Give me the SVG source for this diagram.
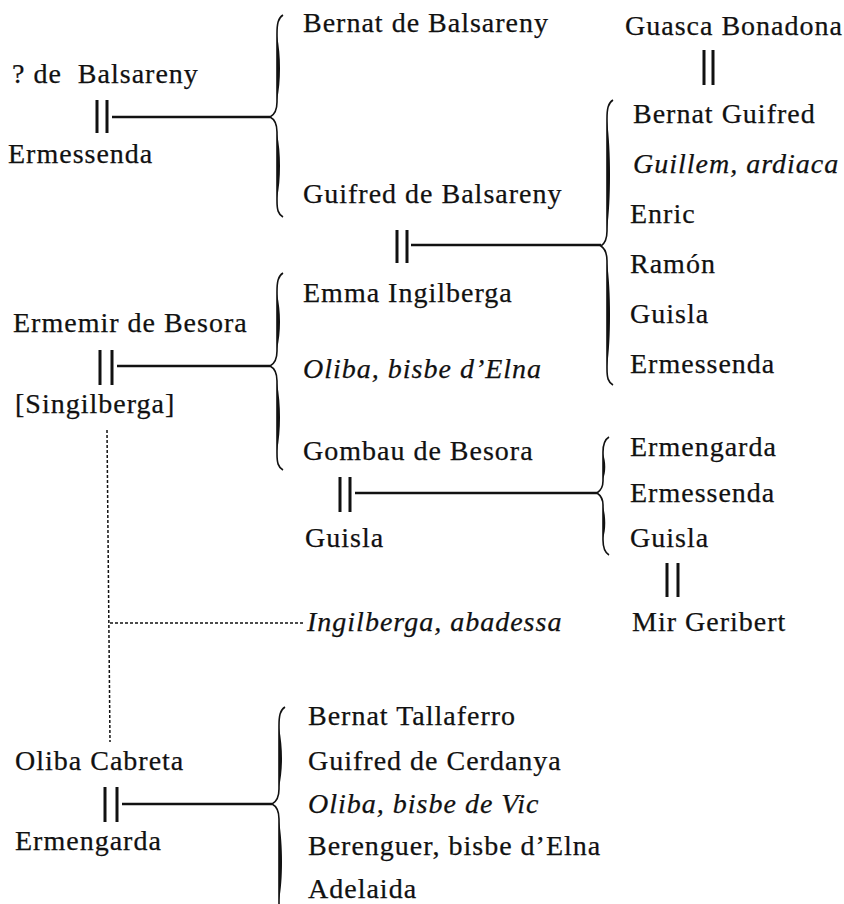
<svg xmlns="http://www.w3.org/2000/svg" width="844" height="904" viewBox="0 0 844 904">
<style>
text{font-family:"Liberation Serif","Times New Roman",serif;font-size:28px;letter-spacing:1px;fill:#111;stroke:#111;stroke-width:0.25;white-space:pre}
.it{font-style:italic}
.bar{stroke:#111;stroke-width:3;fill:none}
.ln{stroke:#111;stroke-width:2.5;fill:none}
.br{stroke:#111;stroke-width:1.6;fill:none}
.sp{fill:#111;stroke:none}
.dot{stroke:#111;stroke-width:1.5;stroke-dasharray:3 2;fill:none}
</style>
<rect width="844" height="904" fill="#fff"/>
<g id="connectors">
  <path class="bar" d="M97,100V133M107,100V133"/>
  <path class="ln" d="M112,117H270"/>
  <path class="bar" d="M100,350V385M112,350V385"/>
  <path class="ln" d="M117,366H270"/>
  <path class="bar" d="M397,230V263M407,230V263"/>
  <path class="ln" d="M411,245H601"/>
  <path class="bar" d="M340,477V512M350,477V512"/>
  <path class="ln" d="M355,493H597"/>
  <path class="bar" d="M704,50V85M713,50V85"/>
  <path class="bar" d="M667,563V597M678,563V597"/>
  <path class="bar" d="M105,787V822M117,787V822"/>
  <path class="ln" d="M122,804H272"/>
  <path class="br" d="M283,15C278,18 277,24 277,34L277,102C277,111 274,115 270,117C274,119 277,123 277,132L277,200C277,210 278,214 283,217"/>
  <path class="sp" d="M277,36C281,55 281,82 277,100ZM277,134C281,152 281,180 277,198Z"/>
  <path class="br" d="M283,273C278,276 277,282 277,292L277,351C277,360 274,364 270,366C274,368 277,372 277,381L277,453C277,463 278,467 283,470"/>
  <path class="sp" d="M277,294C281,312 281,332 277,349ZM277,383C281,405 281,430 277,451Z"/>
  <path class="br" d="M613,100C608,103 607,109 607,119L607,231C607,240 604,244 601,246C604,248 607,252 607,261L607,368C607,378 608,382 613,385"/>
  <path class="sp" d="M607,121C611,150 611,200 607,229ZM607,263C611,290 611,340 607,366Z"/>
  <path class="br" d="M609,437C604,440 603,445 603,452L603,481C603,488 600,491 597,493C600,495 603,498 603,505L603,540C603,547 604,552 609,555"/>
  <path class="sp" d="M603,454C606,462 606,472 603,479ZM603,507C606,516 606,530 603,538Z"/>
  <path class="br" d="M285,707C280,710 279,716 279,726L279,789C279,798 276,802 272,804C276,806 279,810 279,819L279,910"/>
  <path class="sp" d="M279,728C283,748 283,770 279,787ZM279,821C283,845 283,880 279,900Z"/>
  <path class="dot" d="M107,430L110,742"/>
  <path class="dot" d="M110,623H303"/>
</g>
<g id="n-balsareny"><text x="12" y="83" xml:space="preserve">? de  Balsareny</text></g>
<g id="n-ermessenda1"><text x="8" y="163">Ermessenda</text></g>
<g id="n-ermemir"><text x="13" y="332">Ermemir de Besora</text></g>
<g id="n-singilberga"><text x="15" y="413">[Singilberga]</text></g>
<g id="n-oliba-cabreta"><text x="15" y="770">Oliba Cabreta</text></g>
<g id="n-ermengarda1"><text x="15" y="850">Ermengarda</text></g>
<g id="n-bernat-balsareny"><text x="303" y="32">Bernat de Balsareny</text></g>
<g id="n-guifred-balsareny"><text x="303" y="203">Guifred de Balsareny</text></g>
<g id="n-emma"><text x="303" y="302">Emma Ingilberga</text></g>
<g id="n-oliba-elna"><text class="it" x="303" y="378">Oliba, bisbe d’Elna</text></g>
<g id="n-gombau"><text x="303" y="460">Gombau de Besora</text></g>
<g id="n-guisla1"><text x="305" y="547">Guisla</text></g>
<g id="n-ingilberga"><text class="it" x="307" y="631">Ingilberga, abadessa</text></g>
<g id="n-tallaferro"><text x="308" y="725">Bernat Tallaferro</text></g>
<g id="n-guifred-cerdanya"><text x="308" y="770">Guifred de Cerdanya</text></g>
<g id="n-oliba-vic"><text class="it" x="308" y="813">Oliba, bisbe de Vic</text></g>
<g id="n-berenguer"><text x="308" y="855">Berenguer, bisbe d’Elna</text></g>
<g id="n-adelaida"><text x="308" y="898">Adelaida</text></g>
<g id="n-guasca"><text x="625" y="35">Guasca Bonadona</text></g>
<g id="n-bernat-guifred"><text x="633" y="123">Bernat Guifred</text></g>
<g id="n-guillem"><text class="it" x="633" y="173">Guillem, ardiaca</text></g>
<g id="n-enric"><text x="630" y="223">Enric</text></g>
<g id="n-ramon"><text x="630" y="273">Ramón</text></g>
<g id="n-guisla2"><text x="630" y="323">Guisla</text></g>
<g id="n-ermessenda2"><text x="630" y="373">Ermessenda</text></g>
<g id="n-ermengarda2"><text x="630" y="456">Ermengarda</text></g>
<g id="n-ermessenda3"><text x="630" y="502">Ermessenda</text></g>
<g id="n-guisla3"><text x="630" y="547">Guisla</text></g>
<g id="n-mir"><text x="632" y="631">Mir Geribert</text></g>
</svg>
